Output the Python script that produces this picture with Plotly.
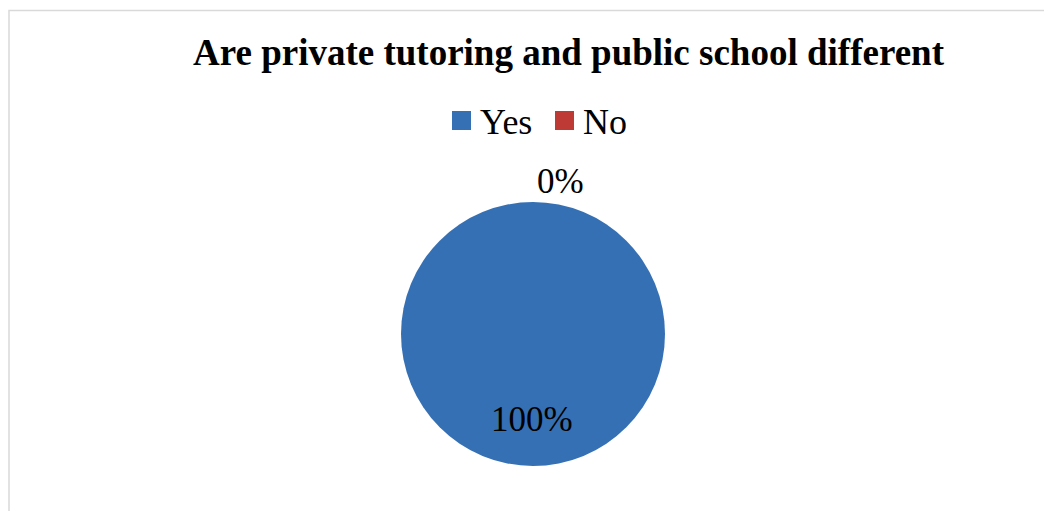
import plotly.graph_objects as go

title_text = "Are private tutoring and public school different"
categories = ["Yes", "No"]
values = [100, 0]
colors = ["#3670B4", "#BE3A35"]

# page body has an 8px margin; work in reference pixel coords and shift
OFF = 8
W, H = 1052 - OFF, 511 - OFF


def px(x):
    return (x - OFF) / W


def py(y):
    return 1 - (y - OFF) / H


total = sum(values)
pcts = [f"{round(v / total * 100)}%" for v in values]

fig = go.Figure(go.Pie(
    labels=categories,
    values=values,
    marker=dict(colors=colors, line=dict(width=0)),
    textinfo="none",
    sort=False,
    direction="clockwise",
    rotation=0,
    showlegend=False,
    hoverinfo="label+percent",
    domain=dict(x=[px(401), px(665)], y=[py(466), py(202)]),
))

font_family = "Liberation Serif, Times New Roman, serif"

annotations = [
    dict(text=f"<b>{title_text}</b>", x=px(569), y=py(52), xref="paper", yref="paper",
         showarrow=False, font=dict(family=font_family, size=37, color="black"),
         xanchor="center", yanchor="middle"),
    # data labels
    dict(text=pcts[1], x=px(560), y=py(181), xref="paper", yref="paper",
         showarrow=False, font=dict(family=font_family, size=35, color="black"),
         xanchor="center", yanchor="middle"),
    dict(text=pcts[0], x=px(532), y=py(419), xref="paper", yref="paper",
         showarrow=False, font=dict(family=font_family, size=35, color="black"),
         xanchor="center", yanchor="middle"),
    # legend texts
    dict(text=categories[0], x=px(478), y=py(122), xref="paper", yref="paper",
         showarrow=False, font=dict(family=font_family, size=36, color="black"),
         xanchor="left", yanchor="middle"),
    dict(text=categories[1], x=px(581), y=py(122), xref="paper", yref="paper",
         showarrow=False, font=dict(family=font_family, size=36, color="black"),
         xanchor="left", yanchor="middle"),
]

shapes = [
    # chart border (top and left visible)
    dict(type="rect", x0=px(9), x1=px(1070), y0=py(530), y1=py(10.5), xref="paper", yref="paper",
         line=dict(color="#D9D9D9", width=1.5), fillcolor="rgba(0,0,0,0)"),
    # legend squares
    dict(type="rect", x0=px(452), x1=px(471), y0=py(130), y1=py(111), xref="paper", yref="paper",
         line=dict(width=0), fillcolor=colors[0]),
    dict(type="rect", x0=px(555), x1=px(574), y0=py(130), y1=py(111), xref="paper", yref="paper",
         line=dict(width=0), fillcolor=colors[1]),
]

fig.update_layout(
    width=W, height=H,
    margin=dict(l=0, r=0, t=0, b=0),
    paper_bgcolor="white",
    plot_bgcolor="white",
    annotations=annotations,
    shapes=shapes,
    showlegend=False,
)

fig.write_html("out.html")
